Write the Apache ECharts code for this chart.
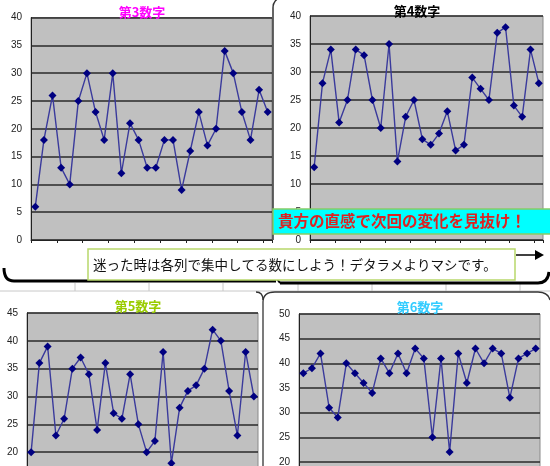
<!DOCTYPE html>
<html><head><meta charset="utf-8">
<script src="https://cdn.jsdelivr.net/npm/echarts@6/dist/echarts.min.js"></script>
<style>html,body{margin:0;padding:0;background:#fff}#c{width:550px;height:466px}</style>
</head><body><div id="c"></div>
<script>
const categories = Array.from({length: 28}, (_, i) => String(i + 1));
const third  = [6,18,26,13,10,25,30,23,18,30,12,21,18,13,13,18,18,9,16,23,17,20,34,30,23,18,27,23];
const fourth = [13,28,34,21,25,34,33,25,20,35,14,22,25,18,17,19,23,16,17,29,27,25,37,38,24,22,34,28];
const fifth  = [20,36,39,23,26,35,37,34,24,36,27,26,34,25,20,22,38,18,28,31,32,35,42,40,31,23,38,30];
const sixth  = [38,39,42,31,29,40,38,36,34,41,38,42,38,43,41,25,41,22,42,36,43,40,43,42,33,41,42,43];
const titles = ['第3数字','第4数字','第5数字','第6数字'];
const titleColors = ['#ff00ff','#000000','#99cc00','#33ccff'];
const yRanges = [[0,40],[0,40],[15,45],[15,50]];
const seriesData = [third, fourth, fifth, sixth];

const grids = [
  {left:31, top:17.5, width:241, height:222.5},
  {left:310, top:16, width:233, height:224},
  {left:27, top:313, width:231, height:167},
  {left:299, top:314, width:241, height:172.6}
];
const titlePos = [[137,1],[412,0],[133,295],[415,296]];
const labelFont = 'Liberation Sans, DejaVu Sans, sans-serif';
const cjk = '"Noto Sans CJK JP", sans-serif';

function seg(x1,y1,x2,y2,stroke,w){return {type:'line', z:1, shape:{x1,y1,x2,y2}, style:{stroke, lineWidth:w}};}
function curve(x1,y1,cx,cy,x2,y2,stroke,w){return {type:'bezierCurve', z:1, shape:{x1,y1,x2,y2,cpx1:cx,cpy1:cy}, style:{stroke, lineWidth:w, fill:null}};}

const option = {
  animation:false,
  backgroundColor:'#ffffff',
  title: titles.map((t,i)=>({
    text:t, left:titlePos[i][0], top:titlePos[i][1], textAlign:'center',
    textStyle:{color:titleColors[i], fontSize:13, fontWeight:'bold', fontFamily:cjk}
  })),
  grid: grids.map(g=>Object.assign({show:true, backgroundColor:'#c0c0c0', borderColor:'#8a8a8a', borderWidth:1, containLabel:false, outerBoundsMode:'none'}, g)),
  xAxis: grids.map((g,i)=>({
    type:'category', gridIndex:i, data:categories, boundaryGap:true,
    axisLine:{show:true, lineStyle:{color:'#222', width:1}},
    axisTick:{show:true, length:3, inside:false, lineStyle:{color:'#222'}},
    axisLabel:{show:false}, splitLine:{show:false}
  })),
  yAxis: grids.map((g,i)=>({
    type:'value', gridIndex:i, min:yRanges[i][0], max:yRanges[i][1], interval:5,
    axisLine:{show:true, lineStyle:{color:'#222', width:1}},
    axisTick:{show:false},
    axisLabel:{color:'#222', fontSize:10, fontFamily:labelFont, margin:9},
    splitLine:{show:true, lineStyle:{color:'#2a2a2a', width:1.5}}
  })),
  series: seriesData.map((d,i)=>({
    type:'line', xAxisIndex:i, yAxisIndex:i, data:d,
    symbol:'diamond', symbolSize:8, showSymbol:true, showAllSymbol:true,
    lineStyle:{color:'#3a3a9c', width:1.4},
    itemStyle:{color:'#000080'}
  })),
  graphic: [
    seg(0,291,550,291,'#c8c8c8',1),
    ...[75,149,223,298,372,446,520].map(x=>seg(x,283,x,291,'#c8c8c8',1)),
    seg(273,240,273,8,'#333',1.5),
    curve(273,8,273,1,279,-2,'#333',1.5),
    curve(4,268,4,281,14,281,'#000',3),
    seg(14,281,276,281,'#000',3),
    seg(277,279,280,283,'#000',2),
    seg(280,283,538,283,'#000',3),
    curve(538,283,548,283,549,272,'#000',3),
    seg(263,470,263,302,'#333',1.3),
    curve(263,302,263,292,275,292,'#333',1.3),
    seg(275,292,538,292,'#333',1.3),
    curve(538,292,548,292,550,300,'#333',1.3),
    curve(256,292,263,292,263,300,'#333',1.3),
    {type:'rect', z:100, shape:{x:273, y:209, width:282, height:25}, style:{fill:'#00ffff', stroke:'#88cc66', lineWidth:1.5}},
    {type:'text', z:101, x:278, y:221.5, style:{text:'貴方の直感で次回の変化を見抜け！', fill:'#dd2222', font:'bold 15.5px "Noto Sans CJK JP", sans-serif', verticalAlign:'middle', textAlign:'left'}},
    {type:'rect', z:100, shape:{x:88, y:249, width:427, height:31}, style:{fill:'#ffffff', stroke:'#b8d86b', lineWidth:1.5}},
    {type:'text', z:101, x:93, y:265, style:{text:'迷った時は各列で集中してる数にしよう！デタラメよりマシです。', fill:'#111', font:'13.5px "Noto Sans CJK JP", sans-serif', verticalAlign:'middle', textAlign:'left'}},
    {type:'line', z:100, shape:{x1:516,y1:255,x2:537,y2:255}, style:{stroke:'#000', lineWidth:1.5}},
    {type:'polygon', z:100, shape:{points:[[535,250],[544,255],[535,260]]}, style:{fill:'#000'}}
  ]
};
echarts.init(document.getElementById('c'), null, {renderer:'canvas'}).setOption(option);
</script></body></html>
